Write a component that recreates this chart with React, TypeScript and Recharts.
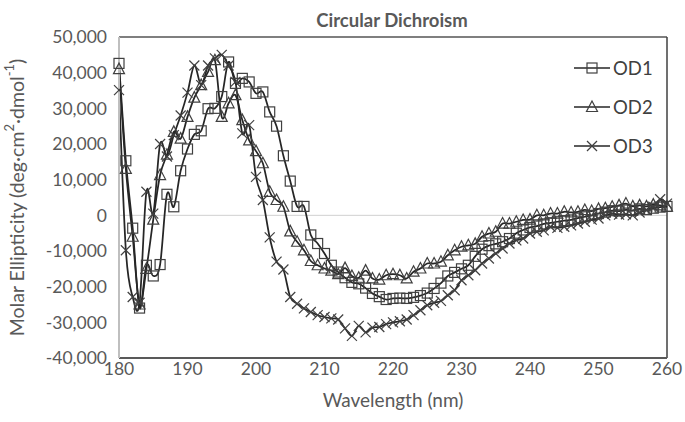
import React from "react";
import { LineChart, Line, XAxis, YAxis, ReferenceLine, Legend } from "recharts";

const wavelengths = [
  180, 181, 182, 183, 184, 185, 186, 187, 188, 189, 190, 191, 192, 193, 194, 195, 196, 197, 198, 199,
  200, 201, 202, 203, 204, 205, 206, 207, 208, 209, 210, 211, 212, 213, 214, 215, 216, 217, 218, 219,
  220, 221, 222, 223, 224, 225, 226, 227, 228, 229, 230, 231, 232, 233, 234, 235, 236, 237, 238, 239,
  240, 241, 242, 243, 244, 245, 246, 247, 248, 249, 250, 251, 252, 253, 254, 255, 256, 257, 258, 259, 260,
];

const od1 = [
  42600, 15300, -3600, -26000, -14000, -17000, -13800, 5900, 2400, 12500, 18600, 22700, 23700, 29900, 30000, 33300, 43000, 37000, 38400, 37400,
  34200, 34600, 29000, 25000, 16700, 9600, 2500, 2500, -5500, -7900, -10700, -14000, -15900, -17500, -18800, -19200, -20400, -21900, -22800, -23600,
  -23300, -23200, -23300, -23000, -22500, -21800, -20500, -19000, -17000, -16000, -15000, -14000, -11500, -9500, -8500, -8000, -7400, -6500, -5000, -4100,
  -3400, -3000, -2400, -2100, -1800, -1500, -1300, -800, -400, 0, 500, 900, 1300, 1200, 1500, 1400, 1800, 1600, 2000, 2300, 2500,
];

const od2 = [
  41000, 13000, -6000, -25000, -15000, -1200, 11300, 17000, 23400, 21500, 27600, 33000, 36500, 40200, 43500, 27600, 31400, 33700, 26700, 21000,
  18000, 14600, 6600, 4300, 2400, -4500, -7400, -9800, -12800, -14000, -14900, -15500, -16500, -14800, -17000, -17500, -15500, -17700, -18000, -16800,
  -16500, -16800, -17700, -15800, -14900, -13500, -13500, -13000, -11200, -9800, -8800, -8400, -8000, -6000, -5100, -4600, -2300, -2300, -1800, -1300,
  -1200, 0, 0, 500, 500, 1000, 800, 1000, 1500, 1200, 1800, 2000, 2400, 2800, 3300, 2500, 2800, 2500, 3000, 2800, 2400,
];

const od3 = [
  35100, -9800, -22900, -24500, 6600, 500, 20000, 16500, 22500, 28000, 34400, 42000, 36500, 42000, 44000, 45000, 42000, 37400, 23000, 25300,
  10800, 4300, -6200, -13000, -15200, -22900, -24800, -26100, -27100, -28000, -28500, -28900, -29200, -31700, -33800, -31000, -32800, -31500, -31300, -30500,
  -30000, -29700, -29200, -28000, -26600, -25200, -24500, -24000, -22400, -21000, -18200, -16800, -15400, -13500, -12100, -10700, -9300, -7900, -7000, -6500,
  -5100, -4600, -4200, -3200, -3500, -3200, -2800, -2300, -1800, -1200, -900, 0, 500, 200, 300, 0, 800, 1500, 2400, 4500, 3300,
];

const xTicks = [180, 190, 200, 210, 220, 230, 240, 250, 260];
const yTicks = [-40000, -30000, -20000, -10000, 0, 10000, 20000, 30000, 40000, 50000];
const seriesNames = ["OD1", "OD2", "OD3"];

const rows = wavelengths.map((nm, i) => ({ nm, od1: od1[i], od2: od2[i], od3: od3[i] }));

const FONT = "Lato, 'Open Sans', sans-serif";
const TEXT = "#595959";
const LINE = "#262626";
const MARK = "#404040";

// Excel-style smoothed line (cardinal spline through the points)
function excelCurve(context: any) {
  let pts: number[][] = [];
  return {
    areaStart() {},
    areaEnd() {},
    lineStart() {
      pts = [];
    },
    point(x: number, y: number) {
      pts.push([+x, +y]);
    },
    lineEnd() {
      const n = pts.length;
      if (!n) return;
      context.moveTo(pts[0][0], pts[0][1]);
      for (let i = 0; i < n - 1; i++) {
        const p0 = pts[Math.max(i - 1, 0)];
        const p1 = pts[i];
        const p2 = pts[i + 1];
        const p3 = pts[Math.min(i + 2, n - 1)];
        context.bezierCurveTo(
          p1[0] + (p2[0] - p0[0]) / 6,
          p1[1] + (p2[1] - p0[1]) / 6,
          p2[0] - (p3[0] - p1[0]) / 6,
          p2[1] - (p3[1] - p1[1]) / 6,
          p2[0],
          p2[1]
        );
      }
    },
  };
}

function Marker({ shape, cx, cy }: { shape: string; cx: number; cy: number }) {
  if (shape === "square") {
    return <rect x={cx - 5} y={cy - 5} width={10} height={10} fill="none" stroke={MARK} strokeWidth={1.2} />;
  }
  if (shape === "triangle") {
    return (
      <polygon
        points={`${cx},${cy - 6} ${cx - 5.5},${cy + 4.5} ${cx + 5.5},${cy + 4.5}`}
        fill="none"
        stroke={MARK}
        strokeWidth={1.2}
      />
    );
  }
  return (
    <g stroke={MARK} strokeWidth={1.2}>
      <line x1={cx - 5} y1={cy - 5} x2={cx + 5} y2={cy + 5} />
      <line x1={cx - 5} y1={cy + 5} x2={cx + 5} y2={cy - 5} />
    </g>
  );
}

const shapes = ["square", "triangle", "cross"];

const makeDot = (shape: string) => (props: any) => {
  const { cx, cy, index } = props;
  if (cx == null || cy == null) return <g key={`${shape}-${index}`} />;
  return (
    <g key={`${shape}-${index}`}>
      <Marker shape={shape} cx={cx} cy={cy} />
    </g>
  );
};

function LegendBox() {
  return (
    <div style={{ fontFamily: FONT, fontSize: 18.5, color: "#404040" }}>
      {seriesNames.map((name, i) => (
        <div key={name} style={{ display: "flex", alignItems: "center", height: 39 }}>
          <svg width={36} height={16}>
            <line x1={0} x2={36} y1={8} y2={8} stroke={LINE} strokeWidth={1.5} />
            <Marker shape={shapes[i]} cx={18} cy={8} />
          </svg>
          <span style={{ marginLeft: 3 }}>{name}</span>
        </div>
      ))}
    </div>
  );
}

function YTitle(props: any) {
  const vb = props.viewBox || { y: 37, height: 321 };
  const cx = 16;
  const cy = vb.y + vb.height / 2;
  return (
    <text
      x={cx}
      y={cy}
      transform={`rotate(-90, ${cx}, ${cy})`}
      textAnchor="middle"
      dominantBaseline="central"
      fill={TEXT}
      fontFamily={FONT}
      fontSize={19.5}
    >
      Molar Ellipticity (deg·cm
      <tspan dy={-7} fontSize={13}>2</tspan>
      <tspan dy={7}>·dmol</tspan>
      <tspan dy={-7} fontSize={13}>-1</tspan>
      <tspan dy={7}>)</tspan>
    </text>
  );
}

function XTitle(props: any) {
  const vb = props.viewBox || { x: 119, width: 548 };
  return (
    <text x={vb.x + vb.width / 2} y={407} textAnchor="middle" fill={TEXT} fontFamily={FONT} fontSize={19}>
      Wavelength (nm)
    </text>
  );
}

export default function App() {
  return (
    <div style={{ position: "absolute", left: 0, top: 0, width: 685, height: 422, background: "#fff" }}>
      <div
        style={{
          position: "absolute",
          left: 272,
          top: 8,
          width: 240,
          textAlign: "center",
          fontFamily: FONT,
          fontWeight: 700,
          fontSize: 18.5,
          lineHeight: "24px",
          color: TEXT,
        }}
      >
        Circular Dichroism
      </div>
      <LineChart width={685} height={422} data={rows} margin={{ top: 37, right: 18, bottom: 0, left: 0 }}>
        <XAxis
          dataKey="nm"
          type="number"
          domain={[180, 260]}
          ticks={xTicks}
          tickLine={false}
          tickSize={0}
          tickMargin={5}
          height={64}
          axisLine={{ stroke: "#595959", strokeWidth: 2 }}
          tick={{ fill: TEXT, fontFamily: FONT, fontSize: 17.5 }}
          label={{ content: <XTitle /> }}
        />
        <YAxis
          type="number"
          domain={[-40000, 50000]}
          ticks={yTicks}
          tickLine={false}
          tickSize={0}
          tickMargin={12}
          width={119}
          axisLine={{ stroke: "#bfbfbf", strokeWidth: 2 }}
          tick={{ fill: TEXT, fontFamily: FONT, fontSize: 17.5 }}
          tickFormatter={(v: number) => v.toLocaleString("en-US")}
          label={{ content: <YTitle /> }}
        />
        <ReferenceLine y={0} stroke="#d0d0d0" strokeWidth={1} />
        <ReferenceLine y={50000} stroke="#7f7f7f" strokeWidth={2} ifOverflow="visible" />
        <ReferenceLine x={260} stroke="#404040" strokeWidth={1.5} ifOverflow="visible" />
        <Legend
          layout="vertical"
          align="center"
          verticalAlign="middle"
          content={<LegendBox />}
          wrapperStyle={{ left: 574, top: 48, width: 100 }}
        />
        <Line dataKey="od1" name="OD1" type={excelCurve as any} stroke={LINE} strokeWidth={1.75} dot={makeDot("square")} activeDot={false} isAnimationActive={false} />
        <Line dataKey="od2" name="OD2" type={excelCurve as any} stroke={LINE} strokeWidth={1.75} dot={makeDot("triangle")} activeDot={false} isAnimationActive={false} />
        <Line dataKey="od3" name="OD3" type={excelCurve as any} stroke={LINE} strokeWidth={1.75} dot={makeDot("cross")} activeDot={false} isAnimationActive={false} />
      </LineChart>
    </div>
  );
}
